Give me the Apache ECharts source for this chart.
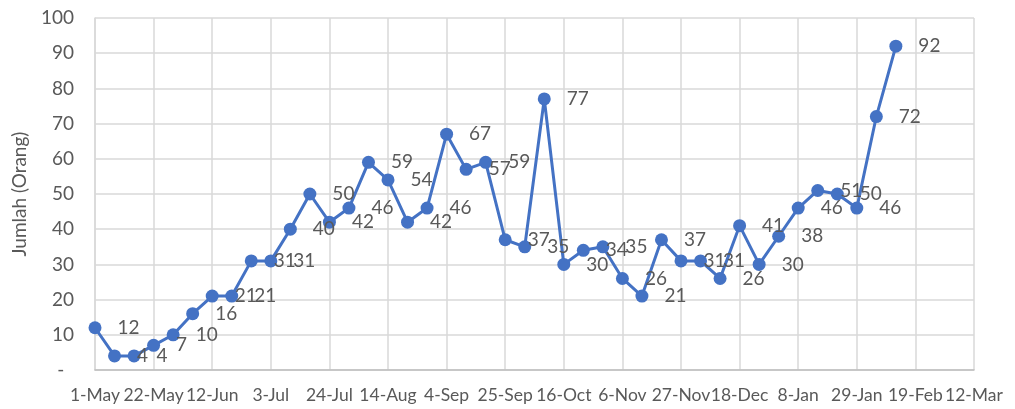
<!DOCTYPE html>
<html>
<head>
<meta charset="utf-8">
<script src="https://cdn.jsdelivr.net/npm/echarts@6/dist/echarts.min.js"></script>
<style>
  html, body { margin: 0; padding: 0; background: #fff; }
  #chart { width: 1015px; height: 409px; }
</style>
</head>
<body>
<div id="chart"></div>
<script>
// label tiap 3 minggu
const tickLabels = ['1-May', '22-May', '12-Jun', '3-Jul', '24-Jul', '14-Aug', '4-Sep', '25-Sep',
  '16-Oct', '6-Nov', '27-Nov', '18-Dec', '8-Jan', '29-Jan', '19-Feb', '12-Mar']

// jumlah orang per minggu
const jumlah = [12, 4, 4, 7, 10, 16, 21, 21, 31, 31, 40, 50, 42, 46, 59, 54, 42, 46, 67, 57,
  59, 37, 35, 77, 30, 34, 35, 26, 21, 37, 31, 31, 26, 41, 30, 38, 46, 51, 50, 46, 72, 92]

const yTicks = [0, 100, 10]

const chart = echarts.init(document.getElementById('chart'))
const font = 'Lato, "Liberation Sans", sans-serif'

chart.setOption({
  backgroundColor: '#ffffff',
  animation: false,
  grid: { left: 95, right: 41, top: 18, bottom: 39 },
  xAxis: {
    type: 'value',
    min: 0,
    max: (tickLabels.length - 1) * 3,
    interval: 3,
    axisLine: { lineStyle: { color: '#bfbfbf', width: 1.5 } },
    axisTick: { show: false },
    splitLine: { show: true, lineStyle: { color: '#d9d9d9', width: 1.5 } },
    axisLabel: {
      color: '#595959',
      fontSize: 17.5,
      fontFamily: font,
      margin: 16,
      showMinLabel: true,
      showMaxLabel: true,
      alignMinLabel: 'center',
      alignMaxLabel: 'center',
      hideOverlap: false,
      formatter: v => tickLabels[v / 3] || ''
    }
  },
  yAxis: {
    type: 'value',
    min: yTicks[0],
    max: yTicks[1],
    interval: yTicks[2],
    name: 'Jumlah (Orang)',
    nameLocation: 'middle',
    nameRotate: 90,
    nameGap: 66,
    nameTextStyle: { color: '#595959', fontSize: 19, fontFamily: font },
    axisLine: { show: true, lineStyle: { color: '#d9d9d9', width: 1.5 } },
    axisTick: { show: false },
    splitLine: { lineStyle: { color: '#d9d9d9', width: 1.5 } },
    axisLabel: {
      color: '#595959',
      fontSize: 19,
      fontFamily: font,
      margin: 21,
      formatter: v => v === 0 ? '-  ' : String(v)
    }
  },
  series: [{
    type: 'line',
    data: jumlah.map((v, i) => [i, v]),
    symbol: 'circle',
    symbolSize: 13,
    lineStyle: { color: '#4472c4', width: 3 },
    itemStyle: { color: '#4472c4' },
    label: {
      show: true,
      position: 'right',
      distance: 16,
      color: '#595959',
      fontSize: 19,
      fontFamily: font,
      formatter: p => p.value[1]
    }
  }]
})
</script>
</body>
</html>
